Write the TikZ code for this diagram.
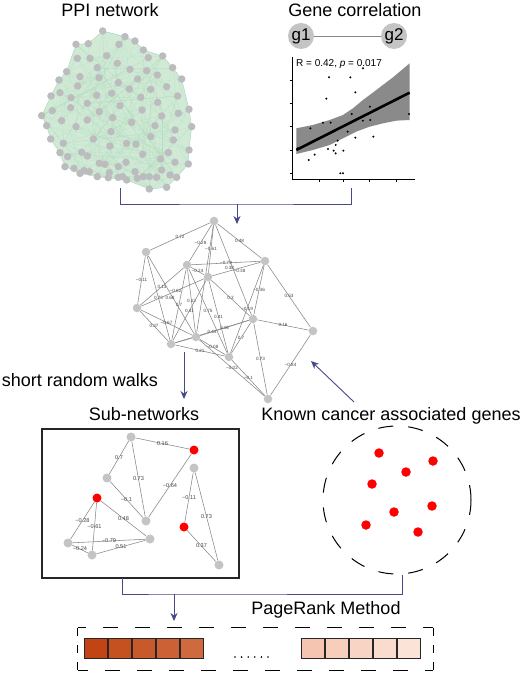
\documentclass[tikz,border=0pt]{standalone}
\usepackage{fontspec}
\setmainfont{Liberation Sans}
\usetikzlibrary{arrows.meta,backgrounds}
\definecolor{arr}{RGB}{72,72,138}
\definecolor{ppigreen}{RGB}{208,234,214}
\definecolor{ppiedge}{RGB}{170,214,182}
\definecolor{ppigray}{RGB}{188,188,190}
\definecolor{ngray}{RGB}{196,196,196}
\definecolor{egray}{RGB}{135,135,135}
\definecolor{lgray}{RGB}{70,70,70}
\definecolor{bandgray}{RGB}{138,138,138}
\definecolor{ca}{RGB}{194,68,20}
\definecolor{cb}{RGB}{197,80,32}
\definecolor{cc}{RGB}{200,89,42}
\definecolor{cd}{RGB}{203,97,52}
\definecolor{ce}{RGB}{206,106,62}
\definecolor{cf}{RGB}{245,197,178}
\definecolor{cg}{RGB}{247,205,188}
\definecolor{ch}{RGB}{248,212,196}
\definecolor{ci}{RGB}{250,220,206}
\definecolor{cj}{RGB}{252,227,216}
\begin{document}
\begin{tikzpicture}[x=1pt,y=-1pt,
  title/.style={font=\fontsize{18}{20}\selectfont, inner sep=0pt, anchor=base},
  ppin/.style={circle, fill=ppigray, minimum size=7.5pt, inner sep=0pt},
  nn/.style={circle, fill=ngray, minimum size=8.5pt, inner sep=0pt},
  sn/.style={circle, fill=ngray, minimum size=9pt, inner sep=0pt},
  rn/.style={circle, fill=red, minimum size=9pt, inner sep=0pt},
  kn/.style={circle, fill=red, minimum size=9.5pt, inner sep=0pt},
  gn/.style={circle, fill=ngray, minimum size=26pt, inner sep=0pt, font=\fontsize{17}{19}\selectfont},
  ed/.style={draw=egray, line width=0.55pt},
  el/.style={font=\fontsize{4.6}{5}\selectfont, text=lgray, inner sep=0.3pt},
  sl/.style={font=\fontsize{5.6}{6}\selectfont, text=lgray, inner sep=0.3pt},
  flow/.style={draw=arr, line width=0.9pt},
  flowarr/.style={flow, -{Stealth[length=8pt,width=7pt]}},
  hdash/.style={draw=black, line width=1pt, dash pattern=on 15pt off 17pt, dash phase=7pt},
  vdash/.style={draw=black, line width=1pt, dash pattern=on 8pt off 9pt},
  cell/.style={draw=black!85, line width=0.6pt, minimum width=23.4pt, minimum height=20pt, inner sep=0pt, anchor=west},
  pt/.style={circle, fill=black, minimum size=2.2pt, inner sep=0pt},
  tdot/.style={circle, fill=black, minimum size=1.8pt, inner sep=0pt}
]
\begin{scope}[on background layer]
\fill[white] (0,0) rectangle (526,674);
\end{scope}
\useasboundingbox (0,0) rectangle (526,674);

% ---------- titles ----------
\node[title] (tppi) at (110,16.5) {PPI network};
\node[title] (tgc) at (355,16.5) {Gene correlation};

% ---------- PPI network ----------
\begin{scope}[x=0.3333pt,y=-0.3333pt]
\fill[ppigreen, draw=ppiedge, line width=0.4pt, rounded corners=6pt]
 (308,93) -- (375,110) -- (405,123) -- (430,150) -- (488,168) -- (518,203) -- (545,237) -- (567,328) -- (575,380) -- (567,450) -- (565,492) -- (530,532) -- (500,562) -- (448,567) -- (380,540) -- (292,530) -- (240,520) -- (195,500) -- (180,458) -- (152,417) -- (140,377) -- (125,347) -- (153,288) -- (177,240) -- (200,215) -- (228,133) -- (265,131) -- cycle;
\foreach [count=\i] \x/\y in {308/93,375/110,228/133,265/131,357/133,405/123,430/150,488/168,232/175,270/175,320/167,445/173,352/190,292/203,390/208,440/212,518/203,200/215,472/225,545/237,240/230,297/233,355/248,413/237,177/240,233/258,388/267,452/268,500/260,153/288,180/278,213/293,290/286,335/280,422/292,533/288,262/310,360/317,473/307,567/328,157/332,212/323,298/335,426/330,535/340,125/347,185/362,262/360,338/353,395/367,485/348,140/377,228/380,465/377,575/380,333/395,525/390,152/417,190/430,280/417,452/410,520/420,330/438,380/430,408/433,567/450,180/458,203/470,245/457,262/468,428/463,505/458,482/477,525/487,565/492,195/500,222/505,298/490,315/493,355/500,378/487,240/520,252/512,268/515,292/530,325/533,328/518,355/532,368/530,380/540,405/515,412/535,430/530,448/530,470/532,485/510,510/525,530/532,448/567,500/562}
  \coordinate (p\i) at (\x,\y);
\pgfmathsetseed{11}
\foreach \k in {1,...,220} {
  \pgfmathtruncatemacro\a{random(1,100)}
  \pgfmathtruncatemacro\b{random(1,100)}
  \draw[ppiedge, line width=0.3pt, opacity=0.35] (p\a) -- (p\b);
}
\foreach \i in {1,...,100} \node[ppin] (q\i) at (p\i) {};
\end{scope}

% ---------- Gene correlation ----------
\node[gn] (g1) at (301,36) {g1};
\node[gn] (g2) at (394,36) {g2};
\draw[draw=egray, line width=0.6pt] (g1) -- (g2);
\begin{scope}[xshift=263pt, x=0.3333pt, y=-0.3333pt]
\fill[bandgray] (100,385) -- (150,375) -- (200,360) -- (240,345) -- (270,325) -- (300,300) -- (340,270) -- (390,232) -- (440,190)
  -- (440,360) -- (400,362) -- (360,370) -- (320,380) -- (280,395) -- (240,415) -- (200,435) -- (150,450) -- (100,462) -- cycle;
\draw[black, line width=0.7pt] (88,170) -- (88,537) -- (455,537);
\foreach \t in {240,310,380,450,520} \draw[black, line width=0.5pt] (80,\t) -- (88,\t);
\foreach \t in {170,240,320,400} \draw[black, line width=0.5pt] (\t,537) -- (\t,545);
\draw[black, line width=2.6pt] (100,450) -- (440,278);
\foreach [count=\i] \x/\y in {198/232,262/232,277/277,190/296,321/320,266/342,438/342,180/368,203/368,300/362,322/360,142/385,254/395,277/413,331/410,224/422,218/435,195/447,212/452,218/460,241/452,155/464,137/480,104/445,232/520,240/520,300/205}
  \node[pt] (d\i) at (\x,\y) {};
\end{scope}
\node[font=\fontsize{10}{12}\selectfont, inner sep=0pt, anchor=base west] (rlab) at (296,67) {R = 0.42, \textit{p} = 0.017};

% ---------- top bracket ----------
\coordinate (ppiB) at (120,188);
\coordinate (corB) at (351,188);
\coordinate (jt) at (237,204);
\coordinate (jtE) at (237,224);
\draw[flow] (ppiB) |- (jt) -| (corB);
\draw[flowarr] (jt) -- (jtE);

% ---------- middle network ----------
\node[nn] (A) at (214,221) {};
\node[nn] (B) at (146,252) {};
\node[nn] (C) at (187,265) {};
\node[nn] (D) at (265,261) {};
\node[nn] (E) at (208,277) {};
\node[nn] (F) at (137,308) {};
\node[nn] (G) at (253,319) {};
\node[nn] (H) at (313,331) {};
\node[nn] (I) at (196,337) {};
\node[nn] (J) at (171,344) {};
\node[nn] (K) at (229,357) {};
\node[nn] (L) at (268,399) {};
\begin{scope}[on background layer]
\draw[ed] (A) -- node[el]{0.72} (B);
\draw[ed] (A) -- node[el]{−0.28} (C);
\draw[ed] (A) -- node[el]{−0.61} (E);
\draw[ed] (A) -- (I);
\draw[ed] (A) -- node[el]{0.48} (D);
\draw[ed] (A) -- node[el,xshift=-4pt,yshift=2pt]{0.38} (G);
\draw[ed] (C) -- node[el]{−0.79} (D);
\draw[ed] (C) -- node[el]{−0.24} (E);
\draw[ed] (E) -- node[el,xshift=3pt,yshift=-2pt]{−0.38} (D);
\draw[ed] (B) -- node[el]{−0.11} (F);
\draw[ed] (C) -- node[el]{0.13} (F);
\draw[ed] (B) -- node[el]{0.73} (J);
\draw[ed] (B) -- node[el,xshift=-1pt,yshift=-3pt]{0.68} (I);
\draw[ed] (E) -- node[el,xshift=3pt,yshift=2pt]{−0.62} (F);
\draw[ed] (C) -- node[el]{0.7} (J);
\draw[ed] (C) -- node[el]{0.13} (I);
\draw[ed] (E) -- node[el]{0.41} (J);
\draw[ed] (C) -- node[el]{0.75} (K);
\draw[ed] (E) -- node[el]{0.41} (K);
\draw[ed] (F) -- node[el]{−0.67} (I);
\draw[ed] (F) -- node[el]{0.37} (J);
\draw[ed] (E) -- node[el]{0.3} (G);
\draw[ed] (D) -- node[el]{−0.36} (G);
\draw[ed] (D) -- node[el]{−0.19} (K);
\draw[ed] (D) -- node[el]{0.53} (H);
\draw[ed] (G) -- node[el]{0.16} (H);
\draw[ed] (H) -- node[el]{−0.84} (L);
\draw[ed] (G) -- node[el]{0.73} (L);
\draw[ed] (G) -- node[el]{0.7} (K);
\draw[ed] (J) -- node[el]{0.44} (G);
\draw[ed] (I) -- node[el]{0.16} (G);
\draw[ed] (I) -- node[el]{−0.08} (K);
\draw[ed] (J) -- node[el]{0.21} (K);
\draw[ed] (I) -- node[el]{−0.02} (L);
\draw[ed] (K) -- node[el]{−0.1} (L);
\draw[ed] (I) -- (J);
\end{scope}

% ---------- middle labels and arrows ----------
\node[title] (trw) at (80,386) {short random walks};
\node[title] (tsub) at (144,420) {Sub-networks};
\node[title] (tkc) at (391,420) {Known cancer associated genes};
\coordinate (rwS) at (184,352);
\coordinate (rwE) at (184,399);
\draw[flowarr] (rwS) -- (rwE);
\coordinate (kcS) at (354,402);
\coordinate (kcE) at (311,361);
\draw[flowarr] (kcS) -- (kcE);

% ---------- sub-networks ----------
\node[draw=black!85, line width=1.2pt, minimum width=197pt, minimum height=149pt, inner sep=0pt] (sub) at (140.5,503.5) {};
\node[sn] (s1) at (131,437) {};
\node[rn] (s2) at (194,450) {};
\node[sn] (s3) at (107,478) {};
\node[sn] (s4) at (194,468) {};
\node[rn] (s5) at (97,498) {};
\node[sn] (s6) at (146,521) {};
\node[rn] (s7) at (184,527) {};
\node[sn] (s8) at (150,539) {};
\node[sn] (s9) at (68,543) {};
\node[sn] (s10) at (92,555) {};
\node[sn] (s11) at (219,565) {};
\begin{scope}[on background layer]
\draw[ed] (s1) -- node[sl]{0.16} (s2);
\draw[ed] (s1) -- node[sl]{0.7} (s3);
\draw[ed] (s1) -- node[sl]{0.73} (s6);
\draw[ed] (s3) -- node[sl]{−0.1} (s6);
\draw[ed] (s2) -- node[sl]{−0.64} (s6);
\draw[ed] (s4) -- node[sl]{−0.11} (s7);
\draw[ed] (s4) -- node[sl]{0.73} (s11);
\draw[ed] (s7) -- node[sl]{0.37} (s11);
\draw[ed] (s5) -- node[sl]{−0.28} (s9);
\draw[ed] (s5) -- node[sl]{−0.61} (s10);
\draw[ed] (s5) -- node[sl]{0.48} (s8);
\draw[ed] (s9) -- node[sl]{−0.79} (s8);
\draw[ed] (s9) -- node[sl]{−0.24} (s10);
\draw[ed] (s10) -- node[sl]{0.51} (s8);
\end{scope}

% ---------- known cancer genes ----------
\node[draw=black, circle, line width=1pt, dash pattern=on 15pt off 15pt, minimum size=148pt, inner sep=0pt] (kc) at (397,500) {};
\node[kn] (k1) at (379,453) {};
\node[kn] (k2) at (433,461) {};
\node[kn] (k3) at (406,472) {};
\node[kn] (k4) at (372,484) {};
\node[kn] (k5) at (432,506) {};
\node[kn] (k6) at (394,512) {};
\node[kn] (k7) at (366,525) {};
\node[kn] (k8) at (418,532) {};

% ---------- bottom bracket ----------
\coordinate (subB) at (122,578);
\coordinate (knB) at (402,575);
\coordinate (jb) at (174,594);
\coordinate (jbE) at (174,621);
\draw[flow] (subB) |- (jb) -| (knB);
\draw[flowarr] (jb) -- (jbE);
\node[title] (tpr) at (326,614) {PageRank Method};

% ---------- ranking ----------
\node[minimum width=355pt, minimum height=42pt, inner sep=0pt] (rank) at (255.5,649) {};
\draw[hdash] (rank.north west) -- (rank.north east);
\draw[vdash] (rank.north east) -- (rank.south east);
\draw[hdash] (rank.south east) -- (rank.south west);
\draw[vdash] (rank.south west) -- (rank.north west);
\node[cell, fill=ca] (r1) at (84,648) {};
\node[cell, fill=cb] (r2) at (r1.east) {};
\node[cell, fill=cc] (r3) at (r2.east) {};
\node[cell, fill=cd] (r4) at (r3.east) {};
\node[cell, fill=ce] (r5) at (r4.east) {};
\node[cell, fill=cf] (r6) at (301,648) {};
\node[cell, fill=cg] (r7) at (r6.east) {};
\node[cell, fill=ch] (r8) at (r7.east) {};
\node[cell, fill=ci] (r9) at (r8.east) {};
\node[cell, fill=cj] (r10) at (r9.east) {};
\foreach \i in {0,...,5} \node[tdot] (dd\i) at (235+6.6*\i,657) {};
\end{tikzpicture}
\end{document}
